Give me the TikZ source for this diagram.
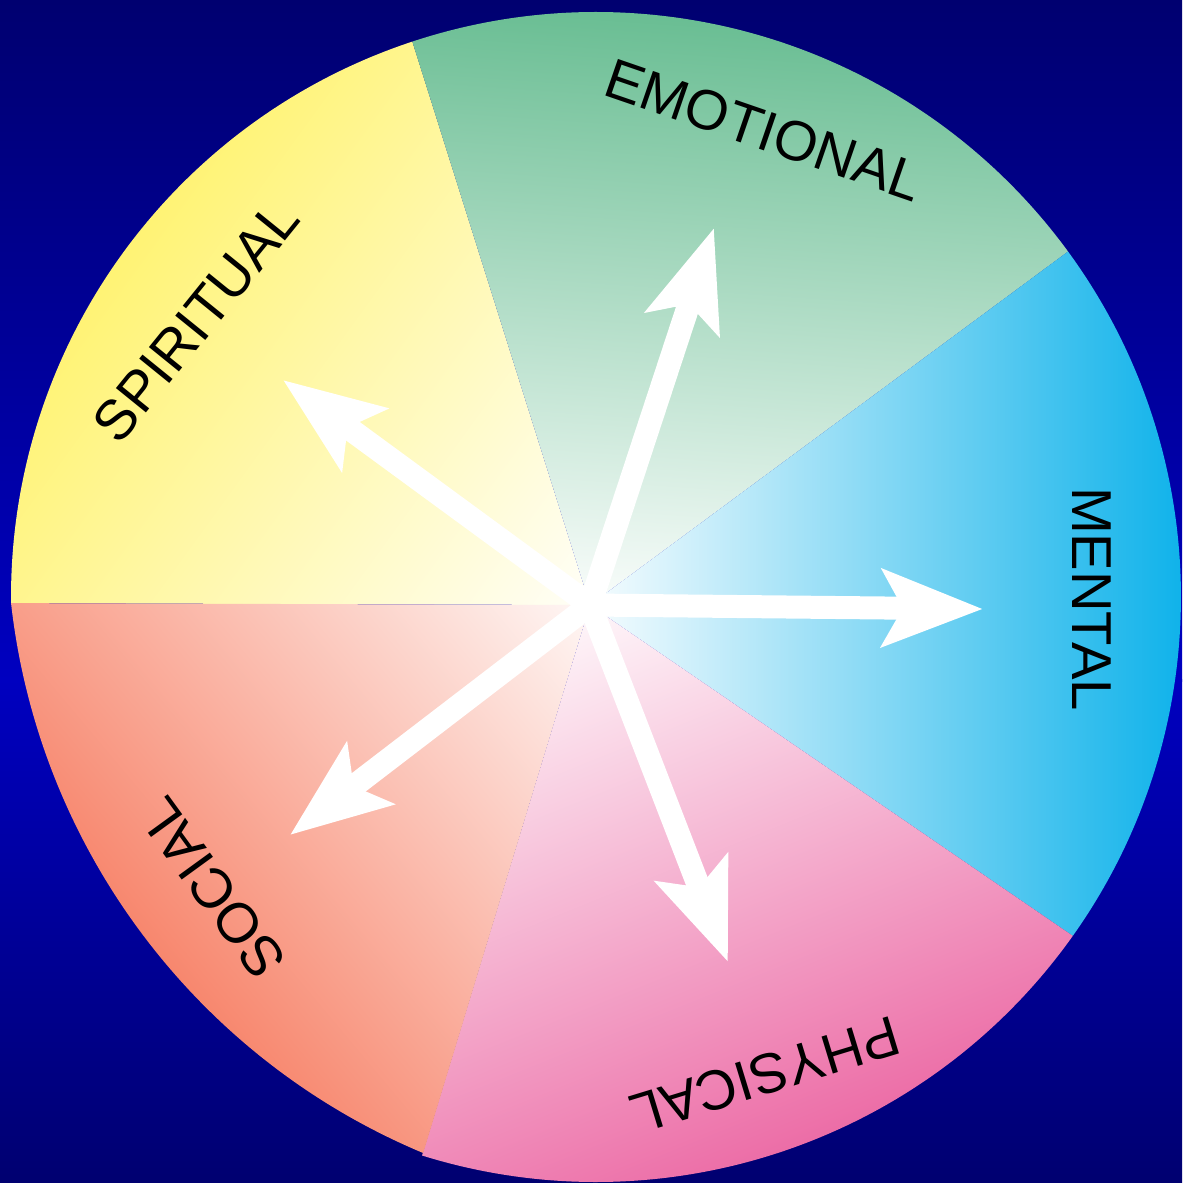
\documentclass[tikz,border=0pt]{standalone}
\usepackage{fontspec}
\setmainfont{Liberation Sans}
\definecolor{azulosc}{RGB}{0,0,112}
\definecolor{azulcl}{RGB}{0,0,192}
\definecolor{amarillo}{RGB}{255,243,115}
\definecolor{verde}{RGB}{104,189,146}
\definecolor{celeste}{RGB}{14,178,234}
\definecolor{rosa}{RGB}{236,108,166}
\definecolor{salmon}{RGB}{247,130,104}
\usetikzlibrary{arrows.meta}
\begin{document}
\begin{tikzpicture}[
    flecha/.style={white,line width=2.3mm,
      -{Stealth[length=10mm,width=7.6mm,inset=2mm]}},
    etiqueta/.style={inner sep=0pt,text=black,
      font=\fontsize{16}{16}\selectfont}]
      % fondo
      \useasboundingbox (-5.96,-5.86) rectangle (5.86,5.97);
      \shade[top color=azulosc,bottom color=azulcl]
        (-5.96,-0.84) rectangle (5.86,5.97);
      \shade[top color=azulcl,bottom color=azulosc]
        (-5.96,-5.86) rectangle (5.86,-0.82);

      \coordinate (centro) at (-0.06,-0.08);

      % sectores
      \begin{scope}
        \clip (centro) -- (108.3:5.85)
          arc[start angle=108.3,end angle=180.6,radius=5.85] -- cycle;
        \begin{scope}[transform canvas={rotate=144}]
          \shade[left color=white,right color=amarillo] (-0.3,-6) rectangle (5.9,6);
        \end{scope}
      \end{scope}
      \begin{scope}
        \clip (centro) -- (36.2:5.85)
          arc[start angle=36.2,end angle=108.3,radius=5.85] -- cycle;
        \begin{scope}[transform canvas={rotate=86}]
          \shade[left color=white,right color=verde] (-0.3,-6) rectangle (5.9,6);
        \end{scope}
      \end{scope}
      \begin{scope}
        \clip (centro) -- (-35.4:5.85)
          arc[start angle=-35.4,end angle=36.2,radius=5.85] -- cycle;
        \begin{scope}[transform canvas={rotate=0}]
          \shade[left color=white,right color=celeste] (-0.3,-6) rectangle (5.9,6);
        \end{scope}
      \end{scope}
      \begin{scope}
        \clip (centro) -- (-107.3:5.85)
          arc[start angle=-107.3,end angle=-35.4,radius=5.85] -- cycle;
        \begin{scope}[transform canvas={rotate=-68}]
          \shade[left color=white,right color=rosa] (-0.3,-6) rectangle (5.9,6);
        \end{scope}
      \end{scope}
      \begin{scope}
        \clip (centro) -- (180.6:5.85)
          arc[start angle=186.4,end angle=247.3,radius=6.78] -- cycle;
        \begin{scope}[transform canvas={rotate=220}]
          \shade[left color=white,right color=salmon] (-0.3,-6) rectangle (5.9,6);
        \end{scope}
      \end{scope}

      % flechas
      \coordinate (pmental) at (3.87,-0.12);
      \coordinate (pemocional) at (1.18,3.69);
      \coordinate (pespiritual) at (-3.13,2.17);
      \coordinate (psocial) at (-3.06,-2.38);
      \coordinate (pfisico) at (1.32,-3.65);
      \draw[flecha] (centro) -- (pmental);
      \draw[flecha] (centro) -- (pemocional);
      \draw[flecha] (centro) -- (pespiritual);
      \draw[flecha] (centro) -- (psocial);
      \draw[flecha] (centro) -- (pfisico);

      % etiquetas
      \node[etiqueta,rotate=-19] (emocional) at (1.68,4.67) {EMOTIONAL};
      \node[etiqueta,rotate=-90] (mental) at (4.96,-0.02) {MENTAL};
      \node[etiqueta,rotate=-163] (fisico) at (1.69,-4.78) {PHYSICAL};
      \node[etiqueta,rotate=126] (social) at (-3.84,-2.91) {SOCIAL};
      \node[etiqueta,rotate=51] (espiritual) at (-4.0,2.76) {SPIRITUAL};
    \end{tikzpicture}
\end{document}
